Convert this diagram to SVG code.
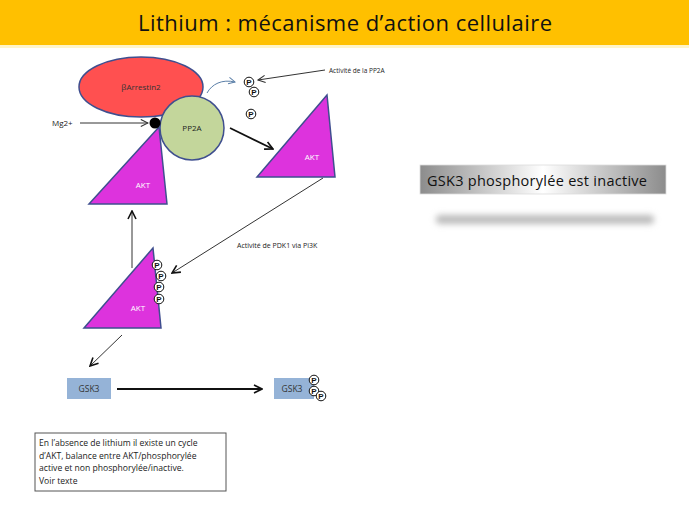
<svg xmlns="http://www.w3.org/2000/svg" width="689" height="517" viewBox="0 0 689 517">
<defs>
<style>
.t{font-family:"Open Sans","Liberation Sans",sans-serif;fill:#222}
.tri{fill:#DD33DD;stroke:#3F4F8F;stroke-width:1.5}
.akt{font-family:"Open Sans","Liberation Sans",sans-serif;font-size:8px;fill:#fff;text-anchor:middle}
.p circle{fill:#fff;stroke:#111;stroke-width:1}
.p text{font-family:"Liberation Sans",sans-serif;font-size:8px;font-weight:bold;fill:#111;text-anchor:middle}
.thin{stroke:#333;stroke-width:1;fill:none}
.thick{stroke:#111;stroke-width:1.8;fill:none}
.gsk{fill:#95B3D7}
</style>
<marker id="open" viewBox="0 0 10 10" refX="9" refY="5" markerWidth="9" markerHeight="9" markerUnits="userSpaceOnUse" orient="auto"><path d="M1,1 L9,5 L1,9" fill="none" stroke="#333" stroke-width="1.2"/></marker>
<marker id="openb" viewBox="0 0 10 10" refX="9" refY="5" markerWidth="10" markerHeight="10" markerUnits="userSpaceOnUse" orient="auto"><path d="M1,1 L9,5 L1,9" fill="none" stroke="#111" stroke-width="1.6"/></marker>
<marker id="blue" viewBox="0 0 10 10" refX="9" refY="5" markerWidth="8" markerHeight="8" markerUnits="userSpaceOnUse" orient="auto"><path d="M1,1 L9,5 L1,9" fill="none" stroke="#5B7FA8" stroke-width="1.2"/></marker>
<linearGradient id="grey" x1="0" y1="0" x2="1" y2="0">
<stop offset="0" stop-color="#8C8C8C"/><stop offset="0.5" stop-color="#FFFFFF"/><stop offset="1" stop-color="#8C8C8C"/>
</linearGradient>
<filter id="blur" x="-0.2" y="-2" width="1.4" height="5"><feGaussianBlur stdDeviation="3"/></filter>
</defs>
<rect width="689" height="517" fill="#fff"/>
<g id="title">
<rect x="0" y="0" width="689" height="45" fill="#FFC000"/>
<rect x="0" y="45" width="689" height="3" fill="#FFF4C8"/>
<text x="345" y="31" text-anchor="middle" style="font-family:'Open Sans','Liberation Sans',sans-serif;font-size:22px;fill:#111" textLength="414">Lithium : mécanisme d’action cellulaire</text>
</g>
<g id="connectors">
<path class="thin" d="M80,123 L148,123" marker-end="url(#open)"/>
<path d="M207,93 C212,84 222,79 235,82" fill="none" stroke="#5B7FA8" stroke-width="1" marker-end="url(#blue)"/>
<path class="thin" d="M325,70 L258,80" marker-end="url(#open)"/>
<path class="thick" d="M230,128 L273,149" marker-end="url(#openb)"/>
<path class="thin" d="M323,178 L172,273" stroke-width="1.4" marker-end="url(#openb)"/>
<path class="thin" d="M132,268 L132,211" stroke-width="1.4" marker-end="url(#openb)"/>
<path class="thin" d="M122,335 L90,366" stroke-width="1.4" marker-end="url(#openb)"/>
<path class="thick" d="M117,389 L262,389" stroke-width="2.2" marker-end="url(#openb)"/>
</g>
<g id="akt1">
<polygon class="tri" points="159,127 89,204 167,204"/>
<text class="akt" x="143" y="188">AKT</text>
</g>
<g id="arrestin">
<ellipse cx="141" cy="87" rx="62" ry="30" fill="#FF5050" stroke="#3F4F8F" stroke-width="1.5"/>
<text x="141" y="90" text-anchor="middle" style="font-family:'Open Sans','Liberation Sans',sans-serif;font-size:8px;fill:#333">βArrestin2</text>
</g>
<g id="pp2a">
<circle cx="192" cy="128" r="32" fill="#C3D69B" stroke="#3F4F8F" stroke-width="1.5"/>
<text x="192" y="131" text-anchor="middle" style="font-family:'Open Sans','Liberation Sans',sans-serif;font-size:8px;fill:#222">PP2A</text>
</g>
<g id="mg">
<circle cx="155" cy="123" r="5.5" fill="#000"/>
<text class="t" x="52" y="126" style="font-size:8px">Mg2+</text>
</g>
<g id="p-top" class="p">
<circle cx="249" cy="82" r="4.8"/><text x="249" y="85">P</text>
<circle cx="254" cy="92" r="4.8"/><text x="254" y="95">P</text>
<circle cx="251" cy="114" r="4.8"/><text x="251" y="117">P</text>
</g>
<g id="label-pp2a"><text class="t" x="329" y="73" style="font-size:6.5px">Activité de la PP2A</text></g>
<g id="akt2">
<polygon class="tri" points="327,95 257,177 335,177"/>
<text class="akt" x="312" y="160">AKT</text>
</g>
<g id="label-pdk1"><text class="t" x="237" y="248" style="font-size:7px">Activité de PDK1 via Pi3K</text></g>
<g id="akt3">
<polygon class="tri" points="153,248 84,328 161,328"/>
<text class="akt" x="138" y="311">AKT</text>
</g>
<g id="p-akt3" class="p">
<circle cx="157" cy="265" r="4.8"/><text x="157" y="268">P</text>
<circle cx="161" cy="276" r="4.8"/><text x="161" y="279">P</text>
<circle cx="159" cy="287" r="4.8"/><text x="159" y="290">P</text>
<circle cx="159" cy="299" r="4.8"/><text x="159" y="302">P</text>
</g>
<g id="gsk3a">
<rect class="gsk" x="67" y="378" width="44" height="21"/>
<text x="89" y="392" text-anchor="middle" style="font-family:'Open Sans','Liberation Sans',sans-serif;font-size:8.5px;fill:#333">GSK3</text>
</g>
<g id="gsk3b">
<rect class="gsk" x="274" y="378" width="40" height="21"/>
<text x="292" y="392" text-anchor="middle" style="font-family:'Open Sans','Liberation Sans',sans-serif;font-size:8.5px;fill:#333">GSK3</text>
<g class="p">
<circle cx="314" cy="380" r="4.8"/><text x="314" y="383">P</text>
<circle cx="314" cy="391" r="4.8"/><text x="314" y="394">P</text>
<circle cx="321" cy="396" r="4.8"/><text x="321" y="399">P</text>
</g>
</g>
<g id="note">
<rect x="35" y="433" width="191" height="58" fill="#fff" stroke="#555" stroke-width="1"/>
<text class="t" style="font-size:8.6px">
<tspan x="39" y="446">En l’absence de lithium il existe un cycle</tspan>
<tspan x="39" y="459">d’AKT, balance entre AKT/phosphorylée</tspan>
<tspan x="39" y="471">active et non phosphorylée/inactive.</tspan>
<tspan x="39" y="484">Voir texte</tspan>
</text>
</g>
<g id="inactive">
<rect x="436" y="215" width="218" height="9" rx="4" fill="#BBBBBB" filter="url(#blur)"/>
<rect x="420" y="165" width="246" height="29" fill="url(#grey)" stroke="#DDDDDD" stroke-width="0.8"/>
<text x="427" y="186" style="font-family:'Open Sans','Liberation Sans',sans-serif;font-size:14.5px;fill:#111" textLength="220">GSK3 phosphorylée est inactive</text>
</g>
</svg>
